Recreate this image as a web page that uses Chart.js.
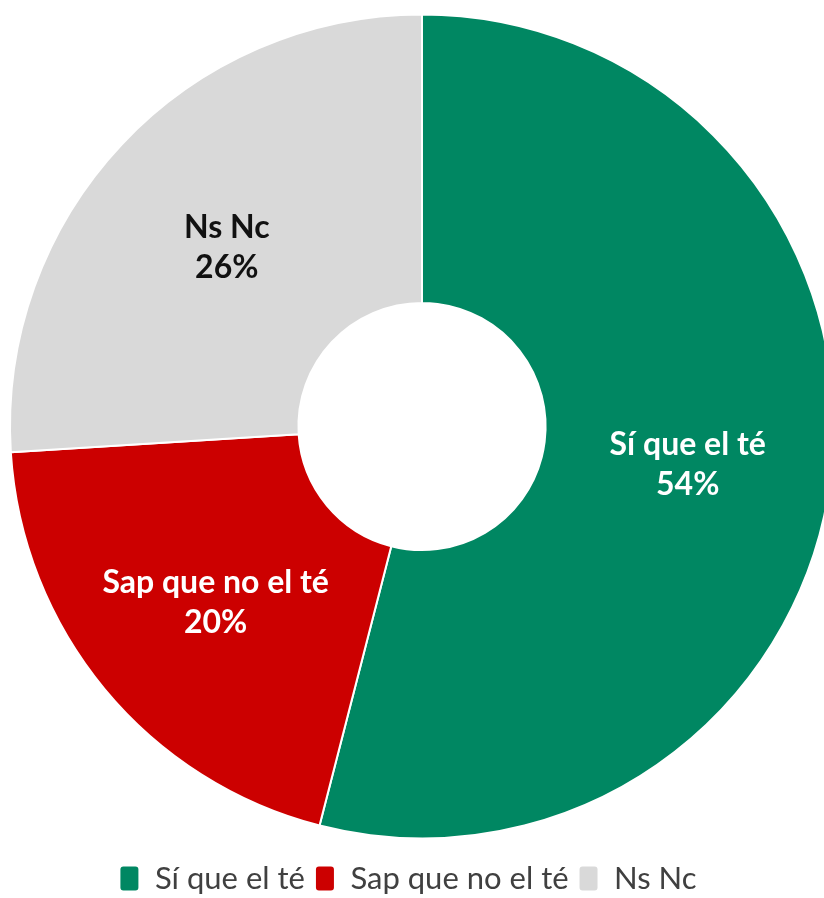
<!DOCTYPE html>
<html>
<head>
<meta charset="utf-8">
<script src="https://cdn.jsdelivr.net/npm/chart.js@4.4.1/dist/chart.umd.min.js"></script>
<style>
  html, body { margin: 0; padding: 0; background: #fff; overflow: hidden; }
  #wrap { position: absolute; left: 0; top: 0; }
</style>
</head>
<body>
<div id="wrap"><canvas id="myChart" width="844" height="904"></canvas></div>
<script>
const categories = ["Sí que el té", "Sap que no el té", "Ns Nc"];
const percentages = [54, 20, 26];
const sliceColors = ["#008762", "#cc0000", "#d9d9d9"];
const labelColors = ["#ffffff", "#ffffff", "#111111"];

const FONT = "Lato, 'Open Sans', sans-serif";

// draws "name / value%" in the middle of each slice
const sliceLabels = {
  id: "sliceLabels",
  afterDatasetsDraw(chart) {
    const ctx = chart.ctx;
    const meta = chart.getDatasetMeta(0);
    ctx.save();
    ctx.font = "bold 32px " + FONT;
    ctx.textAlign = "center";
    ctx.textBaseline = "middle";
    meta.data.forEach((arc, i) => {
      const p = arc.tooltipPosition();
      ctx.fillStyle = labelColors[i];
      ctx.fillText(categories[i], p.x, p.y - 15);
      ctx.fillText(percentages[i] + "%", p.x, p.y + 25);
    });
    ctx.restore();
  }
};

// legend sits a bit left of the ring's centre in the original
const legendShift = {
  id: "legendShift",
  afterLayout(chart) {
    chart.legend.left -= 14;
    chart.legend.right -= 14;
  }
};

new Chart(document.getElementById("myChart").getContext("2d"), {
  type: "doughnut",
  data: {
    labels: categories,
    datasets: [{
      data: percentages,
      backgroundColor: sliceColors,
      borderColor: "#ffffff",
      borderWidth: 2
    }]
  },
  options: {
    responsive: false,
    animation: false,
    radius: 412,
    cutout: "30%",
    layout: { padding: 0 },
    plugins: {
      tooltip: { enabled: false },
      legend: {
        position: "bottom",
        labels: {
          font: { family: FONT, size: 31 },
          color: "#404040",
          boxWidth: 20,
          boxHeight: 26,
          useBorderRadius: true,
          borderRadius: 4,
          padding: 10
        }
      }
    }
  },
  plugins: [sliceLabels, legendShift]
});
</script>
</body>
</html>
